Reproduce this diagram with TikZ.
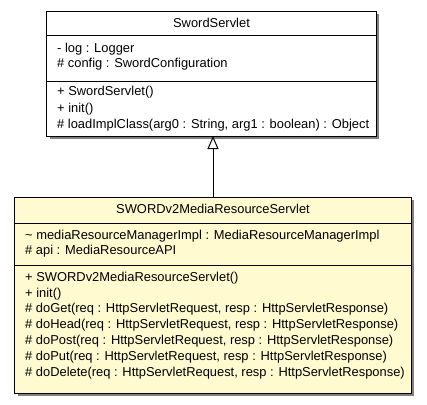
\documentclass[tikz,border=0pt]{standalone}
\usepackage{fontspec}
\setmainfont{Liberation Sans}
\usetikzlibrary{arrows.meta}
\definecolor{umlfill}{RGB}{255,250,208}
\definecolor{umlshadow}{RGB}{128,128,128}
\tikzset{
  umlbox/.style={draw=black, line width=1bp, inner sep=0pt, outer sep=0pt},
  txt/.style={anchor=base west, inner sep=0pt, font=\fontsize{12.95}{14}\selectfont},
  ttl/.style={anchor=base, inner sep=0pt, font=\fontsize{12.95}{14}\selectfont},
  divider/.style={draw=black, line width=1bp}
}
\begin{document}
\begin{tikzpicture}[x=1bp,y=-1bp]
\useasboundingbox (0,0) rectangle (427,405);
% shadows
\fill[umlshadow] (49.5,13.5) rectangle (378.5,138.5);
\fill[umlshadow] (17.5,199.5) rectangle (413.5,395.5);
% top class
\node[umlbox, fill=white, minimum width=329bp, minimum height=125bp] (sup) at (211.5,73.5) {};
\draw[divider] (sup.west |- 0,35) coordinate (d1a) -- (sup.east |- 0,35) coordinate (d1b);
\draw[divider] (sup.west |- 0,81) coordinate (d2a) -- (sup.east |- 0,81) coordinate (d2b);
\node[ttl] (supname) at (211.5,27.5) {SwordServlet};
\node[txt] (a1) at (57,52) {- log : Logger};
\node[txt] (a2) at (57,67.5) {\# config : SwordConfiguration};
\node[txt] (m1) at (57,95.5) {+ SwordServlet()};
\node[txt] (m2) at (57,112) {+ init()};
\node[txt] (m3) at (57,128.5) {\# loadImplClass(arg0 : String, arg1 : boolean) : Object};
% bottom class
\node[umlbox, fill=umlfill, minimum width=396bp, minimum height=196bp] (sub) at (213,295) {};
\draw[divider] (sub.west |- 0,223) coordinate (e1a) -- (sub.east |- 0,223) coordinate (e1b);
\draw[divider] (sub.west |- 0,265) coordinate (e2a) -- (sub.east |- 0,265) coordinate (e2b);
\node[ttl] (subname) at (213,213) {SWORDv2MediaResourceServlet};
\node[txt] (b1) at (25,239.5) {\textasciitilde{} mediaResourceManagerImpl : MediaResourceManagerImpl};
\node[txt] (b2) at (25,254.5) {\# api : MediaResourceAPI};
\node[txt] (n1) at (25,281) {+ SWORDv2MediaResourceServlet()};
\node[txt] (n2) at (25,297) {+ init()};
\node[txt] (n3) at (25,312.5) {\# doGet(req : HttpServletRequest, resp : HttpServletResponse)};
\node[txt] (n4) at (25,328.5) {\# doHead(req : HttpServletRequest, resp : HttpServletResponse)};
\node[txt] (n5) at (25,344.5) {\# doPost(req : HttpServletRequest, resp : HttpServletResponse)};
\node[txt] (n6) at (25,360.5) {\# doPut(req : HttpServletRequest, resp : HttpServletResponse)};
\node[txt] (n7) at (25,376.5) {\# doDelete(req : HttpServletRequest, resp : HttpServletResponse)};
% generalization
\draw[line width=1bp, -{Triangle[open, length=13bp, width=11bp, line width=1bp]}] (sub.north) -- (sub.north |- sup.south);
\end{tikzpicture}
\end{document}
